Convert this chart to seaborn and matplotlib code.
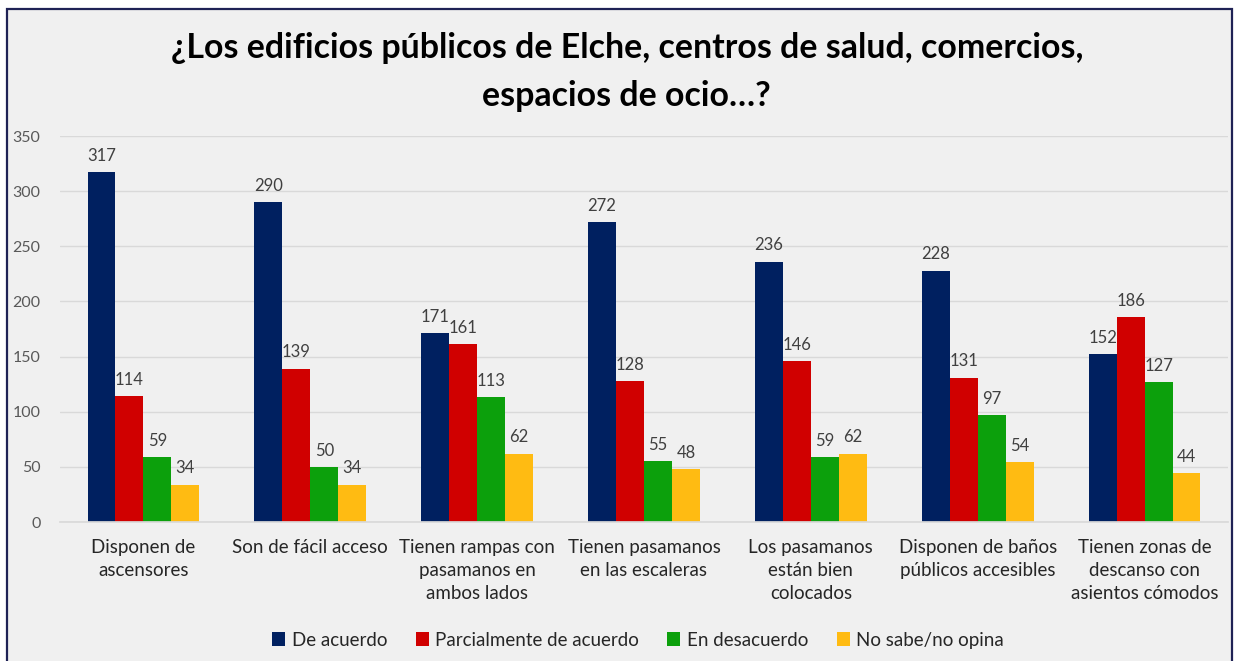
import pandas as pd
import matplotlib
matplotlib.use("Agg")
import matplotlib.pyplot as plt
import seaborn as sns
from matplotlib.patches import Rectangle

categories = ["Disponen de\nascensores", "Son de fácil acceso",
              "Tienen rampas con\npasamanos en\nambos lados",
              "Tienen pasamanos\nen las escaleras", "Los pasamanos\nestán bien\ncolocados",
              "Disponen de baños\npúblicos accesibles",
              "Tienen zonas de\ndescanso con\nasientos cómodos"]
series = ["De acuerdo", "Parcialmente de acuerdo", "En desacuerdo", "No sabe/no opina"]
de_acuerdo = [317, 290, 171, 272, 236, 228, 152]
parcialmente = [114, 139, 161, 128, 146, 131, 186]
desacuerdo = [59, 50, 113, 55, 59, 97, 127]
no_sabe = [34, 34, 62, 48, 62, 54, 44]
colors = ["#002060", "#D00000", "#0CA00C", "#FFBB12"]

df = pd.DataFrame({
    "categoria": categories * 4,
    "serie": sum([[s] * len(categories) for s in series], []),
    "valor": de_acuerdo + parcialmente + desacuerdo + no_sabe,
})

sns.set_theme(style="white")
plt.rcParams['font.family'] = ['Lato', 'DejaVu Sans']

bg = "#F0F0F0"
fig = plt.figure(figsize=(12.34, 6.61), dpi=100, facecolor="white")
# chart frame, drawn behind the axes
fig.patches.append(Rectangle((7 / 1234, -0.01), 1225 / 1234, 1 - 9 / 661 + 0.01,
                             transform=fig.transFigure, facecolor=bg,
                             edgecolor="#1F2255", linewidth=1.6, zorder=-1))
ax = fig.add_axes([60 / 1234, 139 / 661, 1168 / 1234, 386 / 661])
ax.set_facecolor(bg)

sns.barplot(data=df, x="categoria", y="valor", hue="serie", palette=colors,
            width=0.67, ax=ax, saturation=1, legend=True, linewidth=0)

for cont in ax.containers:
    ax.bar_label(cont, padding=6, fontsize=12, color="#404040")

ax.set_ylim(0, 350)
ax.set_yticks(range(0, 351, 50))
ax.grid(axis="y", color="#D9D9D9", linewidth=1)
ax.set_axisbelow(True)
for s in ["top", "right", "left"]:
    ax.spines[s].set_visible(False)
ax.spines["bottom"].set_color("#D9D9D9")
ax.tick_params(axis="y", length=0, labelsize=11.5, labelcolor="#595959", pad=14)
ax.tick_params(axis="x", length=0, labelsize=13.5, labelcolor="#262626", pad=12)
for lbl in ax.get_xticklabels():
    lbl.set_linespacing(1.45)
ax.set_xlabel("")
ax.set_ylabel("")

ax.legend(loc="upper center", bbox_to_anchor=(0.495, -0.24), ncol=4, frameon=False,
          fontsize=13.5, handlelength=0.7, handleheight=0.7, handletextpad=0.35,
          columnspacing=1.5, labelcolor="#262626")

fig.text(0.508, 0.891, "¿Los edificios públicos de Elche, centros de salud, comercios,\nespacios de ocio…?",
         ha="center", va="center", fontsize=24.4, fontweight="bold", color="black",
         linespacing=1.65)

fig.savefig("out.png", dpi=100, facecolor="white")
